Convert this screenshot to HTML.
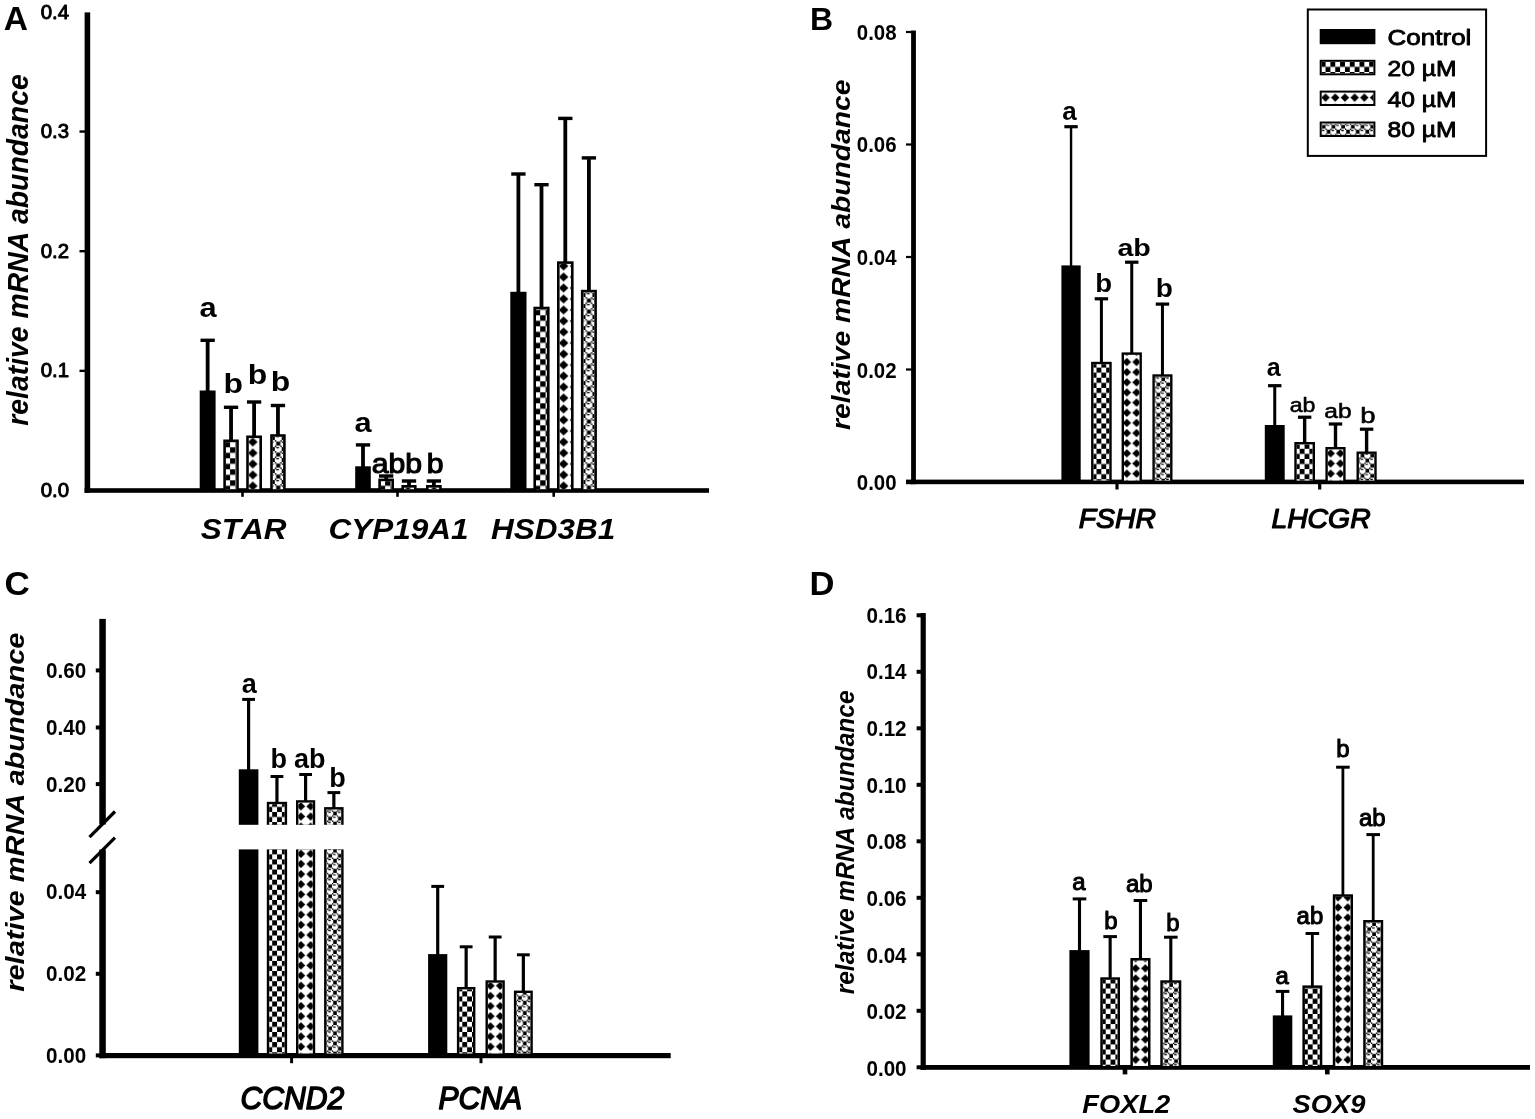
<!DOCTYPE html>
<html lang="en">
<head>
<meta charset="utf-8">
<title>Relative mRNA abundance</title>
<style>
html,body{margin:0;padding:0;background:#fff;}
body{width:1535px;height:1119px;overflow:hidden;}
svg{display:block;font-family:"Liberation Sans", Arial, Helvetica, sans-serif;font-kerning:none;font-weight:bold;text-anchor:middle;fill:#000;}
</style>
</head>
<body>
<svg width="1535" height="1119" viewBox="0 0 1535 1119">
<defs>
<pattern id="p1" patternUnits="userSpaceOnUse" x="10.1" y="7.3" width="11" height="11"><path d="M0 0h5.5v5.5h5.5v5.5h-5.5v-5.5h-5.5z"/></pattern>
<pattern id="p2" patternUnits="userSpaceOnUse" x="5.3" y="7.5" width="11" height="11"><path d="M5.5 0.99L10.29 5.5L5.5 10.01L0.71 5.5Z"/></pattern>
<pattern id="p3" patternUnits="userSpaceOnUse" x="10.8" y="0.1" width="11" height="11"><path d="M0 0h1.38v1.38h-1.38zM5.5 0h1.38v1.38h-1.38zM1.38 1.38h4.12v1.38h-4.12zM6.88 1.38h2.75v1.38h-2.75zM1.38 2.75h4.12v1.38h-4.12zM1.38 4.12h4.12v1.38h-4.12zM0 5.5h1.38v1.38h-1.38zM5.5 5.5h1.38v1.38h-1.38zM1.38 6.88h2.75v1.38h-2.75zM6.88 6.88h4.12v1.38h-4.12zM6.88 8.25h4.12v1.38h-4.12zM6.88 9.62h4.12v1.38h-4.12z"/></pattern>
<pattern id="p4" patternUnits="userSpaceOnUse" x="0.1" y="7.3" width="11" height="11"><path d="M0 0h5.5v5.5h5.5v5.5h-5.5v-5.5h-5.5z"/></pattern>
<pattern id="p5" patternUnits="userSpaceOnUse" x="6.5" y="7.5" width="11" height="11"><path d="M5.5 0.99L10.29 5.5L5.5 10.01L0.71 5.5Z"/></pattern>
<pattern id="p6" patternUnits="userSpaceOnUse" x="1.6" y="0.1" width="11" height="11"><path d="M0 0h1.38v1.38h-1.38zM5.5 0h1.38v1.38h-1.38zM1.38 1.38h4.12v1.38h-4.12zM6.88 1.38h2.75v1.38h-2.75zM1.38 2.75h4.12v1.38h-4.12zM1.38 4.12h4.12v1.38h-4.12zM0 5.5h1.38v1.38h-1.38zM5.5 5.5h1.38v1.38h-1.38zM1.38 6.88h2.75v1.38h-2.75zM6.88 6.88h4.12v1.38h-4.12zM6.88 8.25h4.12v1.38h-4.12zM6.88 9.62h4.12v1.38h-4.12z"/></pattern>
<pattern id="p7" patternUnits="userSpaceOnUse" x="1.2" y="7.3" width="11" height="11"><path d="M0 0h5.5v5.5h5.5v5.5h-5.5v-5.5h-5.5z"/></pattern>
<pattern id="p8" patternUnits="userSpaceOnUse" x="8.1" y="7.5" width="11" height="11"><path d="M5.5 0.99L10.29 5.5L5.5 10.01L0.71 5.5Z"/></pattern>
<pattern id="p9" patternUnits="userSpaceOnUse" x="2.5" y="0.1" width="11" height="11"><path d="M0 0h1.38v1.38h-1.38zM5.5 0h1.38v1.38h-1.38zM1.38 1.38h4.12v1.38h-4.12zM6.88 1.38h2.75v1.38h-2.75zM1.38 2.75h4.12v1.38h-4.12zM1.38 4.12h4.12v1.38h-4.12zM0 5.5h1.38v1.38h-1.38zM5.5 5.5h1.38v1.38h-1.38zM1.38 6.88h2.75v1.38h-2.75zM6.88 6.88h4.12v1.38h-4.12zM6.88 8.25h4.12v1.38h-4.12zM6.88 9.62h4.12v1.38h-4.12z"/></pattern>
<pattern id="p10" patternUnits="userSpaceOnUse" x="0.4" y="2.2" width="9.7" height="10.15"><path d="M0 0h4.85v5.08h4.85v5.08h-4.85v-5.08h-4.85z"/></pattern>
<pattern id="p11" patternUnits="userSpaceOnUse" x="6.5" y="1.7" width="9.7" height="10.15"><path d="M4.85 0.91L9.07 5.08L4.85 9.24L0.63 5.08Z"/></pattern>
<pattern id="p12" patternUnits="userSpaceOnUse" x="1.1" y="5.7" width="9.7" height="10.15"><path d="M0 0h1.21v1.27h-1.21zM4.85 0h1.21v1.27h-1.21zM1.21 1.27h3.64v1.27h-3.64zM6.06 1.27h2.42v1.27h-2.42zM1.21 2.54h3.64v1.27h-3.64zM1.21 3.81h3.64v1.27h-3.64zM0 5.08h1.21v1.27h-1.21zM4.85 5.08h1.21v1.27h-1.21zM1.21 6.34h2.42v1.27h-2.42zM6.06 6.34h3.64v1.27h-3.64zM6.06 7.61h3.64v1.27h-3.64zM6.06 8.88h3.64v1.27h-3.64z"/></pattern>
<pattern id="p13" patternUnits="userSpaceOnUse" x="9.6" y="2.2" width="9.7" height="10.15"><path d="M0 0h4.85v5.08h4.85v5.08h-4.85v-5.08h-4.85z"/></pattern>
<pattern id="p14" patternUnits="userSpaceOnUse" x="6.6" y="1.7" width="9.7" height="10.15"><path d="M4.85 0.91L9.07 5.08L4.85 9.24L0.63 5.08Z"/></pattern>
<pattern id="p15" patternUnits="userSpaceOnUse" x="1.5" y="5.7" width="9.7" height="10.15"><path d="M0 0h1.21v1.27h-1.21zM4.85 0h1.21v1.27h-1.21zM1.21 1.27h3.64v1.27h-3.64zM6.06 1.27h2.42v1.27h-2.42zM1.21 2.54h3.64v1.27h-3.64zM1.21 3.81h3.64v1.27h-3.64zM0 5.08h1.21v1.27h-1.21zM4.85 5.08h1.21v1.27h-1.21zM1.21 6.34h2.42v1.27h-2.42zM6.06 6.34h3.64v1.27h-3.64zM6.06 7.61h3.64v1.27h-3.64zM6.06 8.88h3.64v1.27h-3.64z"/></pattern>
<pattern id="p16" patternUnits="userSpaceOnUse" x="1.5" y="0.9" width="9.7" height="10.15"><path d="M0 0h4.85v5.08h4.85v5.08h-4.85v-5.08h-4.85z"/></pattern>
<pattern id="p17" patternUnits="userSpaceOnUse" x="1.5" y="1.2" width="9.7" height="10.15"><path d="M4.85 0.91L9.07 5.08L4.85 9.24L0.63 5.08Z"/></pattern>
<pattern id="p18" patternUnits="userSpaceOnUse" x="1.5" y="1.7" width="9.7" height="10.15"><path d="M0 0h1.21v1.27h-1.21zM4.85 0h1.21v1.27h-1.21zM1.21 1.27h3.64v1.27h-3.64zM6.06 1.27h2.42v1.27h-2.42zM1.21 2.54h3.64v1.27h-3.64zM1.21 3.81h3.64v1.27h-3.64zM0 5.08h1.21v1.27h-1.21zM4.85 5.08h1.21v1.27h-1.21zM1.21 6.34h2.42v1.27h-2.42zM6.06 6.34h3.64v1.27h-3.64zM6.06 7.61h3.64v1.27h-3.64zM6.06 8.88h3.64v1.27h-3.64z"/></pattern>
<pattern id="p19" patternUnits="userSpaceOnUse" x="0.6" y="10.1" width="9.7" height="10.15"><path d="M0 0h4.85v5.08h4.85v5.08h-4.85v-5.08h-4.85z"/></pattern>
<pattern id="p20" patternUnits="userSpaceOnUse" x="0.6" y="6.8" width="9.7" height="10.15"><path d="M0 0h4.85v5.08h4.85v5.08h-4.85v-5.08h-4.85z"/></pattern>
<pattern id="p21" patternUnits="userSpaceOnUse" x="5.1" y="9.6" width="9.7" height="10.15"><path d="M4.85 0.91L9.07 5.08L4.85 9.24L0.63 5.08Z"/></pattern>
<pattern id="p22" patternUnits="userSpaceOnUse" x="5.1" y="6.3" width="9.7" height="10.15"><path d="M4.85 0.91L9.07 5.08L4.85 9.24L0.63 5.08Z"/></pattern>
<pattern id="p23" patternUnits="userSpaceOnUse" x="7" y="3.4" width="9.7" height="10.15"><path d="M0 0h1.21v1.27h-1.21zM4.85 0h1.21v1.27h-1.21zM1.21 1.27h3.64v1.27h-3.64zM6.06 1.27h2.42v1.27h-2.42zM1.21 2.54h3.64v1.27h-3.64zM1.21 3.81h3.64v1.27h-3.64zM0 5.08h1.21v1.27h-1.21zM4.85 5.08h1.21v1.27h-1.21zM1.21 6.34h2.42v1.27h-2.42zM6.06 6.34h3.64v1.27h-3.64zM6.06 7.61h3.64v1.27h-3.64zM6.06 8.88h3.64v1.27h-3.64z"/></pattern>
<pattern id="p24" patternUnits="userSpaceOnUse" x="7" y="10.1" width="9.7" height="10.15"><path d="M0 0h1.21v1.27h-1.21zM4.85 0h1.21v1.27h-1.21zM1.21 1.27h3.64v1.27h-3.64zM6.06 1.27h2.42v1.27h-2.42zM1.21 2.54h3.64v1.27h-3.64zM1.21 3.81h3.64v1.27h-3.64zM0 5.08h1.21v1.27h-1.21zM4.85 5.08h1.21v1.27h-1.21zM1.21 6.34h2.42v1.27h-2.42zM6.06 6.34h3.64v1.27h-3.64zM6.06 7.61h3.64v1.27h-3.64zM6.06 8.88h3.64v1.27h-3.64z"/></pattern>
<pattern id="p25" patternUnits="userSpaceOnUse" x="6.4" y="6.8" width="9.7" height="10.15"><path d="M0 0h4.85v5.08h4.85v5.08h-4.85v-5.08h-4.85z"/></pattern>
<pattern id="p26" patternUnits="userSpaceOnUse" x="0.6" y="6.3" width="9.7" height="10.15"><path d="M4.85 0.91L9.07 5.08L4.85 9.24L0.63 5.08Z"/></pattern>
<pattern id="p27" patternUnits="userSpaceOnUse" x="2.8" y="10.1" width="9.7" height="10.15"><path d="M0 0h1.21v1.27h-1.21zM4.85 0h1.21v1.27h-1.21zM1.21 1.27h3.64v1.27h-3.64zM6.06 1.27h2.42v1.27h-2.42zM1.21 2.54h3.64v1.27h-3.64zM1.21 3.81h3.64v1.27h-3.64zM0 5.08h1.21v1.27h-1.21zM4.85 5.08h1.21v1.27h-1.21zM1.21 6.34h2.42v1.27h-2.42zM6.06 6.34h3.64v1.27h-3.64zM6.06 7.61h3.64v1.27h-3.64zM6.06 8.88h3.64v1.27h-3.64z"/></pattern>
<pattern id="p28" patternUnits="userSpaceOnUse" x="9.6" y="9.1" width="9.7" height="10.15"><path d="M0 0h4.85v5.08h4.85v5.08h-4.85v-5.08h-4.85z"/></pattern>
<pattern id="p29" patternUnits="userSpaceOnUse" x="5.6" y="9.2" width="9.7" height="10.15"><path d="M4.85 0.91L9.07 5.08L4.85 9.24L0.63 5.08Z"/></pattern>
<pattern id="p30" patternUnits="userSpaceOnUse" x="9" y="2.3" width="9.7" height="10.15"><path d="M0 0h1.21v1.27h-1.21zM4.85 0h1.21v1.27h-1.21zM1.21 1.27h3.64v1.27h-3.64zM6.06 1.27h2.42v1.27h-2.42zM1.21 2.54h3.64v1.27h-3.64zM1.21 3.81h3.64v1.27h-3.64zM0 5.08h1.21v1.27h-1.21zM4.85 5.08h1.21v1.27h-1.21zM1.21 6.34h2.42v1.27h-2.42zM6.06 6.34h3.64v1.27h-3.64zM6.06 7.61h3.64v1.27h-3.64zM6.06 8.88h3.64v1.27h-3.64z"/></pattern>
<pattern id="p31" patternUnits="userSpaceOnUse" x="8" y="9.1" width="9.7" height="10.15"><path d="M0 0h4.85v5.08h4.85v5.08h-4.85v-5.08h-4.85z"/></pattern>
<pattern id="p32" patternUnits="userSpaceOnUse" x="4.3" y="9.2" width="9.7" height="10.15"><path d="M4.85 0.91L9.07 5.08L4.85 9.24L0.63 5.08Z"/></pattern>
<pattern id="p33" patternUnits="userSpaceOnUse" x="8.2" y="2.3" width="9.7" height="10.15"><path d="M0 0h1.21v1.27h-1.21zM4.85 0h1.21v1.27h-1.21zM1.21 1.27h3.64v1.27h-3.64zM6.06 1.27h2.42v1.27h-2.42zM1.21 2.54h3.64v1.27h-3.64zM1.21 3.81h3.64v1.27h-3.64zM0 5.08h1.21v1.27h-1.21zM4.85 5.08h1.21v1.27h-1.21zM1.21 6.34h2.42v1.27h-2.42zM6.06 6.34h3.64v1.27h-3.64zM6.06 7.61h3.64v1.27h-3.64zM6.06 8.88h3.64v1.27h-3.64z"/></pattern>
</defs>
<rect width="1535" height="1119" fill="#fff"/>
<rect x="84.6" y="12.4" width="5.6" height="480.4"/>
<rect x="84.6" y="488.2" width="624.4" height="4.6"/>
<text transform="translate(69 497)" font-size="20.4" stroke="#000" stroke-width="0.95" stroke-linejoin="round" font-weight="normal" text-anchor="end">0.0</text>
<rect x="79.5" y="369.65" width="6.1" height="2.4"/>
<text transform="translate(69 377.35)" font-size="20.4" stroke="#000" stroke-width="0.95" stroke-linejoin="round" font-weight="normal" text-anchor="end">0.1</text>
<rect x="79.5" y="250" width="6.1" height="2.4"/>
<text transform="translate(69 257.7)" font-size="20.4" stroke="#000" stroke-width="0.95" stroke-linejoin="round" font-weight="normal" text-anchor="end">0.2</text>
<rect x="79.5" y="130.35" width="6.1" height="2.4"/>
<text transform="translate(69 138.05)" font-size="20.4" stroke="#000" stroke-width="0.95" stroke-linejoin="round" font-weight="normal" text-anchor="end">0.3</text>
<text transform="translate(69 19.3)" font-size="20.4" stroke="#000" stroke-width="0.95" stroke-linejoin="round" font-weight="normal" text-anchor="end">0.4</text>
<rect x="241.2" y="491.8" width="2.6" height="5"/>
<rect x="396.2" y="491.8" width="2.6" height="5"/>
<rect x="552.4" y="491.8" width="2.6" height="5"/>
<text transform="translate(243.6 538.5) scale(1.050 1)" font-size="30" font-style="italic">STAR</text>
<text transform="translate(398.6 538.5) scale(1.050 1)" font-size="30" font-style="italic">CYP19A1</text>
<text transform="translate(553.2 538.5) scale(1.050 1)" font-size="30" font-style="italic">HSD3B1</text>
<text transform="translate(27.5 250) rotate(-90) scale(0.965 1)" font-size="29.4" font-style="italic">relative mRNA abundance</text>
<text transform="translate(15.9 30)" font-size="33.5">A</text>
<rect x="205.75" y="340.3" width="3.8" height="51.2"/>
<rect x="200.5" y="338.6" width="14.3" height="3.4"/>
<rect x="199.7" y="390.5" width="15.9" height="98.7"/>
<rect x="229.15" y="407.3" width="3.8" height="33.2"/>
<rect x="223.9" y="405.6" width="14.3" height="3.4"/>
<rect x="223.3" y="439.5" width="15.5" height="49.7"/>
<rect x="225.9" y="442.1" width="10.3" height="47.1" fill="#fff"/>
<rect x="225.9" y="442.1" width="10.3" height="47.1" fill="url(#p1)"/>
<rect x="252.2" y="402" width="3.8" height="34.5"/>
<rect x="246.95" y="400.3" width="14.3" height="3.4"/>
<rect x="246.2" y="435.5" width="15.8" height="53.7"/>
<rect x="248.8" y="438.1" width="10.6" height="51.1" fill="#fff"/>
<rect x="248.8" y="438.1" width="10.6" height="51.1" fill="url(#p2)"/>
<rect x="276.05" y="405.5" width="3.8" height="29.7"/>
<rect x="270.8" y="403.8" width="14.3" height="3.4"/>
<rect x="270.2" y="434.2" width="15.5" height="55"/>
<rect x="272.8" y="436.8" width="10.3" height="52.4" fill="#fff"/>
<rect x="272.8" y="436.8" width="10.3" height="52.4" fill="url(#p3)"/>
<rect x="361.1" y="444.9" width="3.8" height="22.4"/>
<rect x="355.85" y="443.2" width="14.3" height="3.4"/>
<rect x="355.2" y="466.3" width="15.6" height="22.9"/>
<rect x="384.25" y="476" width="3.8" height="3.6"/>
<rect x="379" y="474.3" width="14.3" height="3.4"/>
<rect x="378.3" y="478.6" width="15.7" height="10.6"/>
<rect x="380.9" y="481.2" width="10.5" height="8" fill="#fff"/>
<rect x="380.9" y="481.2" width="10.5" height="8" fill="url(#p4)"/>
<rect x="407.1" y="481" width="3.8" height="5"/>
<rect x="401.85" y="479.3" width="14.3" height="3.4"/>
<rect x="401.4" y="485" width="15.2" height="4.2"/>
<rect x="404" y="487.6" width="10" height="1.6" fill="#fff"/>
<rect x="404" y="487.6" width="10" height="1.6" fill="url(#p5)"/>
<rect x="431.95" y="481" width="3.8" height="5"/>
<rect x="426.7" y="479.3" width="14.3" height="3.4"/>
<rect x="426" y="485" width="15.7" height="4.2"/>
<rect x="428.6" y="487.6" width="10.5" height="1.6" fill="#fff"/>
<rect x="428.6" y="487.6" width="10.5" height="1.6" fill="url(#p6)"/>
<rect x="516.5" y="174" width="3.8" height="118.8"/>
<rect x="511.25" y="172.3" width="14.3" height="3.4"/>
<rect x="510.3" y="291.8" width="16.2" height="197.4"/>
<rect x="539.6" y="184.7" width="3.8" height="123"/>
<rect x="534.35" y="183" width="14.3" height="3.4"/>
<rect x="533.4" y="306.7" width="16.2" height="182.5"/>
<rect x="536" y="309.3" width="11" height="179.9" fill="#fff"/>
<rect x="536" y="309.3" width="11" height="179.9" fill="url(#p7)"/>
<rect x="563.4" y="118.4" width="3.8" height="143.9"/>
<rect x="558.15" y="116.7" width="14.3" height="3.4"/>
<rect x="557" y="261.3" width="16.6" height="227.9"/>
<rect x="559.6" y="263.9" width="11.4" height="225.3" fill="#fff"/>
<rect x="559.6" y="263.9" width="11.4" height="225.3" fill="url(#p8)"/>
<rect x="587" y="157.9" width="3.8" height="132.9"/>
<rect x="581.75" y="156.2" width="14.3" height="3.4"/>
<rect x="580.9" y="289.8" width="16" height="199.4"/>
<rect x="583.5" y="292.4" width="10.8" height="196.8" fill="#fff"/>
<rect x="583.5" y="292.4" width="10.8" height="196.8" fill="url(#p9)"/>
<text transform="translate(208 316.8) scale(1.140 1)" font-size="27">a</text>
<text transform="translate(233.3 393) scale(1.180 1)" font-size="27">b</text>
<text transform="translate(257.5 383.8) scale(1.180 1)" font-size="27">b</text>
<text transform="translate(280.5 391.2) scale(1.180 1)" font-size="27">b</text>
<text transform="translate(363 431.5) scale(1.140 1)" font-size="27">a</text>
<text transform="translate(388.6 473) scale(1.120 1)" font-size="27" stroke="#000" stroke-width="1.1" stroke-linejoin="round" font-weight="normal">ab</text>
<text transform="translate(413.6 473) scale(1.120 1)" font-size="27" stroke="#000" stroke-width="1.1" stroke-linejoin="round" font-weight="normal">b</text>
<text transform="translate(435.2 473) scale(1.120 1)" font-size="27" stroke="#000" stroke-width="1.1" stroke-linejoin="round" font-weight="normal">b</text>
<rect x="911.1" y="30.5" width="4.8" height="453.7"/>
<rect x="911.1" y="479.6" width="612.9" height="4.6"/>
<rect x="906" y="479.6" width="6.1" height="4.6"/>
<text transform="translate(896.6 490.3) scale(0.905 1)" font-size="22.6" text-anchor="end">0.00</text>
<rect x="906" y="368.4" width="6.1" height="2.2"/>
<text transform="translate(896.6 377.6) scale(0.905 1)" font-size="22.6" text-anchor="end">0.02</text>
<rect x="906" y="255.9" width="6.1" height="2.2"/>
<text transform="translate(896.6 264.9) scale(0.905 1)" font-size="22.6" text-anchor="end">0.04</text>
<rect x="906" y="143.4" width="6.1" height="2.2"/>
<text transform="translate(896.6 152.2) scale(0.905 1)" font-size="22.6" text-anchor="end">0.06</text>
<rect x="906" y="30.9" width="6.1" height="2.2"/>
<text transform="translate(896.6 39.5) scale(0.905 1)" font-size="22.6" text-anchor="end">0.08</text>
<rect x="1115.4" y="483.2" width="3.2" height="6.3"/>
<rect x="1318.1" y="483.2" width="3.2" height="6.3"/>
<text transform="translate(1117.3 528) scale(1.050 1)" font-size="27" stroke="#000" stroke-width="1.2" stroke-linejoin="round" font-weight="normal" font-style="italic">FSHR</text>
<text transform="translate(1321 528) scale(1.050 1)" font-size="27" stroke="#000" stroke-width="1.2" stroke-linejoin="round" font-weight="normal" font-style="italic">LHCGR</text>
<text transform="translate(849.5 254.7) rotate(-90) scale(1.080 1)" font-size="26.2" font-style="italic">relative mRNA abundance</text>
<text transform="translate(821.5 29.5)" font-size="32">B</text>
<rect x="1069.85" y="126.7" width="2.4" height="139.7"/>
<rect x="1064.35" y="125.1" width="13.4" height="3.2"/>
<rect x="1061.4" y="265.4" width="19.3" height="215.2"/>
<rect x="1099.9" y="298.8" width="3" height="64"/>
<rect x="1094.7" y="297.2" width="13.4" height="3.2"/>
<rect x="1091.1" y="361.8" width="20.6" height="118.8"/>
<rect x="1093.5" y="364.2" width="15.8" height="116.4" fill="#fff"/>
<rect x="1093.5" y="364.2" width="15.8" height="116.4" fill="url(#p10)"/>
<rect x="1130.25" y="262.2" width="3" height="91.2"/>
<rect x="1125.05" y="260.6" width="13.4" height="3.2"/>
<rect x="1121.6" y="352.4" width="20.3" height="128.2"/>
<rect x="1124" y="354.8" width="15.5" height="125.8" fill="#fff"/>
<rect x="1124" y="354.8" width="15.5" height="125.8" fill="url(#p11)"/>
<rect x="1160.95" y="304.1" width="3" height="71.2"/>
<rect x="1155.75" y="302.5" width="13.4" height="3.2"/>
<rect x="1152.4" y="374.3" width="20.1" height="106.3"/>
<rect x="1154.8" y="376.7" width="15.3" height="103.9" fill="#fff"/>
<rect x="1154.8" y="376.7" width="15.3" height="103.9" fill="url(#p12)"/>
<rect x="1273.25" y="385.7" width="3" height="40.3"/>
<rect x="1268.05" y="384.1" width="13.4" height="3.2"/>
<rect x="1264.8" y="425" width="19.9" height="55.6"/>
<rect x="1302.95" y="417.2" width="3.4" height="25.8"/>
<rect x="1297.95" y="415.6" width="13.4" height="3.2"/>
<rect x="1294.3" y="442" width="20.7" height="38.6"/>
<rect x="1296.7" y="444.4" width="15.9" height="36.2" fill="#fff"/>
<rect x="1296.7" y="444.4" width="15.9" height="36.2" fill="url(#p13)"/>
<rect x="1333.8" y="424" width="3.4" height="24"/>
<rect x="1328.8" y="422.4" width="13.4" height="3.2"/>
<rect x="1325.4" y="447" width="20.2" height="33.6"/>
<rect x="1327.8" y="449.4" width="15.4" height="31.2" fill="#fff"/>
<rect x="1327.8" y="449.4" width="15.4" height="31.2" fill="url(#p14)"/>
<rect x="1364.9" y="429.2" width="3.4" height="23.3"/>
<rect x="1359.9" y="427.6" width="13.4" height="3.2"/>
<rect x="1356.5" y="451.5" width="20.2" height="29.1"/>
<rect x="1358.9" y="453.9" width="15.4" height="26.7" fill="#fff"/>
<rect x="1358.9" y="453.9" width="15.4" height="26.7" fill="url(#p15)"/>
<text transform="translate(1069.6 119.5)" font-size="26">a</text>
<text transform="translate(1103.6 292.1) scale(1.080 1)" font-size="25.5">b</text>
<text transform="translate(1134.1 255.7) scale(1.170 1)" font-size="24.5">ab</text>
<text transform="translate(1164.4 296.5) scale(1.100 1)" font-size="25.5">b</text>
<text transform="translate(1273.8 376.4)" font-size="25">a</text>
<text transform="translate(1302.6 412.3) scale(1.140 1)" font-size="20.3" stroke="#000" stroke-width="0.55" stroke-linejoin="round" font-weight="normal">ab</text>
<text transform="translate(1338 418) scale(1.180 1)" font-size="20.8" stroke="#000" stroke-width="0.55" stroke-linejoin="round" font-weight="normal">ab</text>
<text transform="translate(1368 422.8) scale(1.250 1)" font-size="22" stroke="#000" stroke-width="0.55" stroke-linejoin="round" font-weight="normal">b</text>
<rect x="1307.8" y="9.5" width="178.3" height="146.4" fill="#fff" stroke="#000" stroke-width="2"/>
<rect x="1319.7" y="29" width="55.7" height="15.2"/>
<text transform="translate(1387.6 45) scale(1.150 1)" font-size="22.6" stroke="#000" stroke-width="0.9" stroke-linejoin="round" font-weight="normal" text-anchor="start">Control</text>
<rect x="1319.7" y="59.8" width="55.7" height="15.5"/>
<rect x="1321.7" y="61.8" width="51.7" height="11.5" fill="#fff"/>
<rect x="1321.7" y="61.8" width="51.7" height="11.5" fill="url(#p16)"/>
<text transform="translate(1387.6 75.7) scale(1.090 1)" font-size="22.6" stroke="#000" stroke-width="0.9" stroke-linejoin="round" font-weight="normal" text-anchor="start">20 µM</text>
<rect x="1319.7" y="90.6" width="55.7" height="15.4"/>
<rect x="1321.7" y="92.6" width="51.7" height="11.4" fill="#fff"/>
<rect x="1321.7" y="92.6" width="51.7" height="11.4" fill="url(#p17)"/>
<text transform="translate(1387.6 106.7) scale(1.090 1)" font-size="22.6" stroke="#000" stroke-width="0.9" stroke-linejoin="round" font-weight="normal" text-anchor="start">40 µM</text>
<rect x="1319.7" y="121.5" width="55.7" height="15.5"/>
<rect x="1321.7" y="123.5" width="51.7" height="11.5" fill="#fff"/>
<rect x="1321.7" y="123.5" width="51.7" height="11.5" fill="url(#p18)"/>
<text transform="translate(1387.6 137.3) scale(1.090 1)" font-size="22.6" stroke="#000" stroke-width="0.9" stroke-linejoin="round" font-weight="normal" text-anchor="start">80 µM</text>
<rect x="99.3" y="618.9" width="6.5" height="205.6"/>
<rect x="99.3" y="849.5" width="6.5" height="208.7"/>
<rect x="99.3" y="1053" width="571.4" height="5.2"/>
<path d="M89.5 837.1L115 811.5" stroke="#000" stroke-width="3.2"/>
<path d="M89.5 863.2L115 837.6" stroke="#000" stroke-width="3.2"/>
<rect x="95.8" y="668.4" width="4.5" height="4"/>
<text transform="translate(86.2 678.3) scale(0.940 1)" font-size="22" text-anchor="end">0.60</text>
<rect x="95.8" y="725.5" width="4.5" height="4"/>
<text transform="translate(86.2 735.4) scale(0.940 1)" font-size="22" text-anchor="end">0.40</text>
<rect x="95.8" y="782.1" width="4.5" height="4"/>
<text transform="translate(86.2 792) scale(0.940 1)" font-size="22" text-anchor="end">0.20</text>
<rect x="95.8" y="890.2" width="4.5" height="4"/>
<text transform="translate(86.2 899.4) scale(0.940 1)" font-size="22" text-anchor="end">0.04</text>
<rect x="95.8" y="971.8" width="4.5" height="4"/>
<text transform="translate(86.2 981) scale(0.940 1)" font-size="22" text-anchor="end">0.02</text>
<rect x="95.8" y="1053.4" width="4.5" height="4"/>
<text transform="translate(86.2 1062.6) scale(0.940 1)" font-size="22" text-anchor="end">0.00</text>
<rect x="290.1" y="1057.2" width="3" height="6"/>
<rect x="479.5" y="1057.2" width="3" height="6"/>
<text transform="translate(292.3 1108.7) scale(0.940 1)" font-size="32" stroke="#000" stroke-width="1.5" stroke-linejoin="round" font-weight="normal" font-style="italic">CCND2</text>
<text transform="translate(480.3 1108.7) scale(0.940 1)" font-size="32" stroke="#000" stroke-width="1.5" stroke-linejoin="round" font-weight="normal" font-style="italic">PCNA</text>
<text transform="translate(23.6 812.2) rotate(-90) scale(1.090 1)" font-size="26.6" font-style="italic">relative mRNA abundance</text>
<text transform="translate(17.1 595.3) scale(1.030 1)" font-size="34">C</text>
<rect x="247" y="699.4" width="3.2" height="70.9"/>
<rect x="242.2" y="697.9" width="12.8" height="3"/>
<rect x="238.8" y="769.3" width="19.6" height="55.5"/>
<rect x="238.8" y="849.4" width="19.6" height="204.1"/>
<rect x="275.35" y="776.5" width="3.2" height="26.3"/>
<rect x="270.55" y="775" width="12.8" height="3"/>
<rect x="266.8" y="801.8" width="20.3" height="23"/>
<rect x="269.2" y="804.2" width="15.5" height="20.6" fill="#fff"/>
<rect x="269.2" y="804.2" width="15.5" height="20.6" fill="url(#p19)"/>
<rect x="266.8" y="849.4" width="20.3" height="204.1"/>
<rect x="269.2" y="849.4" width="15.5" height="204.1" fill="#fff"/>
<rect x="269.2" y="849.4" width="15.5" height="204.1" fill="url(#p20)"/>
<rect x="304" y="774.5" width="3.2" height="26.7"/>
<rect x="299.2" y="773" width="12.8" height="3"/>
<rect x="296" y="800.2" width="19.2" height="24.6"/>
<rect x="298.4" y="802.6" width="14.4" height="22.2" fill="#fff"/>
<rect x="298.4" y="802.6" width="14.4" height="22.2" fill="url(#p21)"/>
<rect x="296" y="849.4" width="19.2" height="204.1"/>
<rect x="298.4" y="849.4" width="14.4" height="204.1" fill="#fff"/>
<rect x="298.4" y="849.4" width="14.4" height="204.1" fill="url(#p22)"/>
<rect x="332.25" y="792.6" width="3.2" height="15.5"/>
<rect x="327.45" y="791.1" width="12.8" height="3"/>
<rect x="324.1" y="807.1" width="19.5" height="17.7"/>
<rect x="326.5" y="809.5" width="14.7" height="15.3" fill="#fff"/>
<rect x="326.5" y="809.5" width="14.7" height="15.3" fill="url(#p23)"/>
<rect x="324.1" y="849.4" width="19.5" height="204.1"/>
<rect x="326.5" y="849.4" width="14.7" height="204.1" fill="#fff"/>
<rect x="326.5" y="849.4" width="14.7" height="204.1" fill="url(#p24)"/>
<rect x="436.1" y="886.4" width="3.2" height="68.7"/>
<rect x="431.3" y="884.9" width="12.8" height="3"/>
<rect x="428.1" y="954.1" width="19.2" height="99.4"/>
<rect x="464.55" y="946.8" width="3.2" height="41.2"/>
<rect x="459.75" y="945.3" width="12.8" height="3"/>
<rect x="456.9" y="987" width="18.5" height="66.5"/>
<rect x="459.3" y="989.4" width="13.7" height="64.1" fill="#fff"/>
<rect x="459.3" y="989.4" width="13.7" height="64.1" fill="url(#p25)"/>
<rect x="493.55" y="937" width="3.2" height="44.3"/>
<rect x="488.75" y="935.5" width="12.8" height="3"/>
<rect x="485.5" y="980.3" width="19.3" height="73.2"/>
<rect x="487.9" y="982.7" width="14.5" height="70.8" fill="#fff"/>
<rect x="487.9" y="982.7" width="14.5" height="70.8" fill="url(#p26)"/>
<rect x="521.75" y="954.8" width="3.2" height="36.8"/>
<rect x="516.95" y="953.3" width="12.8" height="3"/>
<rect x="513.9" y="990.6" width="18.9" height="62.9"/>
<rect x="516.3" y="993" width="14.1" height="60.5" fill="#fff"/>
<rect x="516.3" y="993" width="14.1" height="60.5" fill="url(#p27)"/>
<text transform="translate(249.3 692.7)" font-size="27">a</text>
<text transform="translate(278.8 767.8)" font-size="27">b</text>
<text transform="translate(309.7 767.8)" font-size="27">ab</text>
<text transform="translate(337.4 786.5)" font-size="27">b</text>
<rect x="920.6" y="613" width="5.2" height="456.8"/>
<rect x="920.6" y="1065" width="609.4" height="4.8"/>
<rect x="916.6" y="1065.3" width="5" height="4"/>
<text transform="translate(906.6 1075.9) scale(0.960 1)" font-size="21.5" text-anchor="end">0.00</text>
<rect x="916.6" y="1008.8" width="5" height="4"/>
<text transform="translate(906.6 1019.24) scale(0.960 1)" font-size="21.5" text-anchor="end">0.02</text>
<rect x="916.6" y="952.3" width="5" height="4"/>
<text transform="translate(906.6 962.58) scale(0.960 1)" font-size="21.5" text-anchor="end">0.04</text>
<rect x="916.6" y="895.8" width="5" height="4"/>
<text transform="translate(906.6 905.92) scale(0.960 1)" font-size="21.5" text-anchor="end">0.06</text>
<rect x="916.6" y="839.3" width="5" height="4"/>
<text transform="translate(906.6 849.26) scale(0.960 1)" font-size="21.5" text-anchor="end">0.08</text>
<rect x="916.6" y="782.8" width="5" height="4"/>
<text transform="translate(906.6 792.6) scale(0.960 1)" font-size="21.5" text-anchor="end">0.10</text>
<rect x="916.6" y="726.3" width="5" height="4"/>
<text transform="translate(906.6 735.94) scale(0.960 1)" font-size="21.5" text-anchor="end">0.12</text>
<rect x="916.6" y="669.8" width="5" height="4"/>
<text transform="translate(906.6 679.28) scale(0.960 1)" font-size="21.5" text-anchor="end">0.14</text>
<rect x="916.6" y="613.3" width="5" height="4"/>
<text transform="translate(906.6 622.62) scale(0.960 1)" font-size="21.5" text-anchor="end">0.16</text>
<rect x="1122.7" y="1068.8" width="4.6" height="5.6"/>
<rect x="1325" y="1068.8" width="4.6" height="5.6"/>
<text transform="translate(1126.3 1112.5) scale(1.050 1)" font-size="26" font-style="italic">FOXL2</text>
<text transform="translate(1329 1112.5) scale(1.050 1)" font-size="26" font-style="italic">SOX9</text>
<text transform="translate(854.3 842.4) rotate(-90) scale(0.970 1)" font-size="25.3" font-style="italic">relative mRNA abundance</text>
<text transform="translate(822.1 595.3) scale(1.030 1)" font-size="33.6">D</text>
<rect x="1077.95" y="898.9" width="3.1" height="52.2"/>
<rect x="1072.7" y="897.4" width="13.6" height="3"/>
<rect x="1069.4" y="950.1" width="20.2" height="115.9"/>
<rect x="1108.6" y="936.6" width="3.1" height="41.7"/>
<rect x="1103.35" y="935.1" width="13.6" height="3"/>
<rect x="1100.3" y="977.3" width="19.7" height="88.7"/>
<rect x="1102.8" y="979.8" width="14.7" height="86.2" fill="#fff"/>
<rect x="1102.8" y="979.8" width="14.7" height="86.2" fill="url(#p28)"/>
<rect x="1138.9" y="900.5" width="3.1" height="58.5"/>
<rect x="1133.65" y="899" width="13.6" height="3"/>
<rect x="1130.4" y="958" width="20.1" height="108"/>
<rect x="1132.9" y="960.5" width="15.1" height="105.5" fill="#fff"/>
<rect x="1132.9" y="960.5" width="15.1" height="105.5" fill="url(#p29)"/>
<rect x="1169.25" y="937.2" width="3.1" height="44.1"/>
<rect x="1164" y="935.7" width="13.6" height="3"/>
<rect x="1160.3" y="980.3" width="21" height="85.7"/>
<rect x="1162.8" y="982.8" width="16" height="83.2" fill="#fff"/>
<rect x="1162.8" y="982.8" width="16" height="83.2" fill="url(#p30)"/>
<rect x="1281" y="991.4" width="3.1" height="25"/>
<rect x="1275.75" y="989.9" width="13.6" height="3"/>
<rect x="1272.8" y="1015.4" width="19.5" height="50.6"/>
<rect x="1310.95" y="933.5" width="2.8" height="52.9"/>
<rect x="1305.55" y="932" width="13.6" height="3"/>
<rect x="1302.4" y="985.4" width="19.9" height="80.6"/>
<rect x="1304.9" y="987.9" width="14.9" height="78.1" fill="#fff"/>
<rect x="1304.9" y="987.9" width="14.9" height="78.1" fill="url(#p31)"/>
<rect x="1341.5" y="767.2" width="2.8" height="128.1"/>
<rect x="1336.1" y="765.7" width="13.6" height="3"/>
<rect x="1332.8" y="894.3" width="20.2" height="171.7"/>
<rect x="1335.3" y="896.8" width="15.2" height="169.2" fill="#fff"/>
<rect x="1335.3" y="896.8" width="15.2" height="169.2" fill="url(#p32)"/>
<rect x="1371.8" y="834.6" width="2.8" height="86.4"/>
<rect x="1366.4" y="833.1" width="13.6" height="3"/>
<rect x="1363.2" y="920" width="20" height="146"/>
<rect x="1365.7" y="922.5" width="15" height="143.5" fill="#fff"/>
<rect x="1365.7" y="922.5" width="15" height="143.5" fill="url(#p33)"/>
<text transform="translate(1079 890) scale(1.040 1)" font-size="23" stroke="#000" stroke-width="1.0" stroke-linejoin="round" font-weight="normal">a</text>
<text transform="translate(1110.9 928.5) scale(1.040 1)" font-size="23" stroke="#000" stroke-width="1.0" stroke-linejoin="round" font-weight="normal">b</text>
<text transform="translate(1139.3 892.1) scale(1.040 1)" font-size="23" stroke="#000" stroke-width="1.0" stroke-linejoin="round" font-weight="normal">ab</text>
<text transform="translate(1172.9 930.8) scale(1.040 1)" font-size="23" stroke="#000" stroke-width="1.0" stroke-linejoin="round" font-weight="normal">b</text>
<text transform="translate(1282.2 983.9) scale(1.040 1)" font-size="23" stroke="#000" stroke-width="1.0" stroke-linejoin="round" font-weight="normal">a</text>
<text transform="translate(1309.9 924) scale(1.040 1)" font-size="23" stroke="#000" stroke-width="1.0" stroke-linejoin="round" font-weight="normal">ab</text>
<text transform="translate(1342.9 757.2) scale(1.040 1)" font-size="23" stroke="#000" stroke-width="1.0" stroke-linejoin="round" font-weight="normal">b</text>
<text transform="translate(1372.2 825.5) scale(1.040 1)" font-size="23" stroke="#000" stroke-width="1.0" stroke-linejoin="round" font-weight="normal">ab</text>
</svg>
</body>
</html>
